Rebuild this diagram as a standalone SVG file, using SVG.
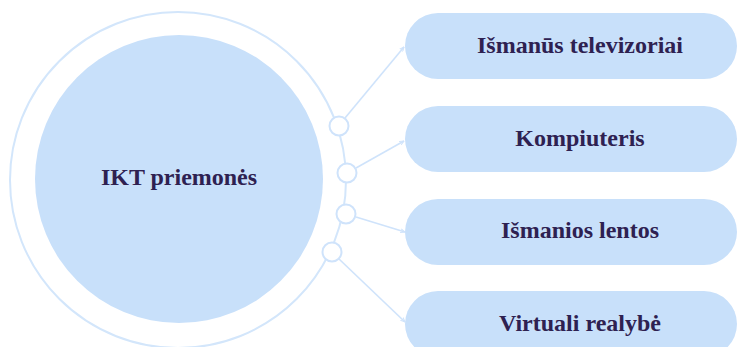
<svg xmlns="http://www.w3.org/2000/svg" width="737" height="347" viewBox="0 0 737 347">
  <style>
    .bg { fill: #ffffff; }
    .hub { fill: #c8e0fa; }
    .ring { fill: none; stroke: #d3e6fb; stroke-width: 2; }
    .dot { fill: #ffffff; stroke: #cfe3fb; stroke-width: 2; }
    .pill { fill: #c8e0fa; }
    .link { fill: none; stroke: #cfe3fb; stroke-width: 1.6; marker-end: url(#tip); }
    .label { font-family: "Liberation Serif", "Times New Roman", serif; font-weight: bold; font-size: 24px; fill: #2e2151; text-anchor: middle; dominant-baseline: central; }
  </style>
  <defs>
    <marker id="tip" viewBox="0 0 10 10" refX="9" refY="5" markerWidth="5" markerHeight="5" orient="auto" markerUnits="userSpaceOnUse">
      <path d="M0,1 L9,5 L0,9" fill="none" stroke="#cfe3fb" stroke-width="2"/>
    </marker>
  </defs>
  <rect class="bg" x="0" y="0" width="737" height="347"/>

  <g id="hub">
    <circle class="ring" cx="178" cy="180" r="168"/>
    <circle class="hub" cx="179" cy="179" r="144"/>
    <text class="label" x="179" y="177">IKT priemonės</text>
  </g>

  <g id="connectors">
    <line class="link" x1="345" y1="118" x2="404" y2="47"/>
    <line class="link" x1="356" y1="168" x2="404" y2="141"/>
    <line class="link" x1="356" y1="217" x2="405" y2="232"/>
    <line class="link" x1="339" y1="259" x2="405" y2="322"/>
  </g>

  <g id="ports">
    <circle class="dot" cx="339" cy="126" r="9.5"/>
    <circle class="dot" cx="347" cy="173" r="9.5"/>
    <circle class="dot" cx="346" cy="214" r="9.5"/>
    <circle class="dot" cx="332" cy="252" r="9.5"/>
  </g>

  <g id="node-tv">
    <rect class="pill" x="405" y="13" width="332" height="66" rx="33"/>
    <text class="label" x="580" y="45">Išmanūs televizoriai</text>
  </g>
  <g id="node-pc">
    <rect class="pill" x="405" y="106" width="332" height="66" rx="33"/>
    <text class="label" x="580" y="138">Kompiuteris</text>
  </g>
  <g id="node-board">
    <rect class="pill" x="405" y="199" width="332" height="66" rx="33"/>
    <text class="label" x="580" y="230">Išmanios lentos</text>
  </g>
  <g id="node-vr">
    <rect class="pill" x="405" y="291" width="332" height="66" rx="33"/>
    <text class="label" x="580" y="323">Virtuali realybė</text>
  </g>
</svg>
